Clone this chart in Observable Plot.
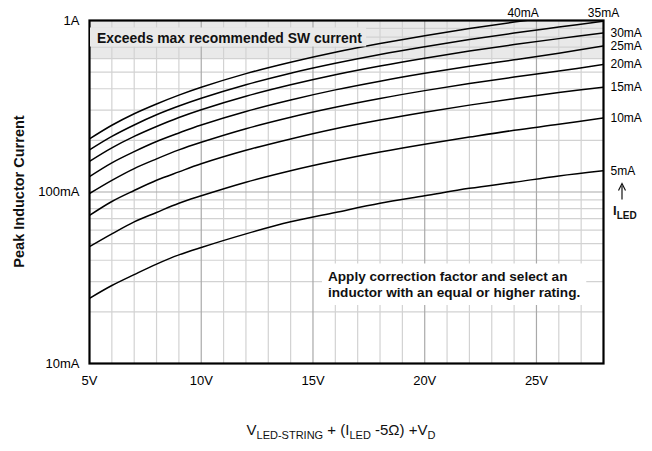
<!DOCTYPE html>
<html><head><meta charset="utf-8">
<script src="https://cdn.jsdelivr.net/npm/d3@7"></script>
<script src="https://cdn.jsdelivr.net/npm/@observablehq/plot@0.6"></script>
<style>body{margin:0;background:#fff} svg{display:block}</style>
</head><body><div id="chart"></div>
<script>
// ---- data ----
const volts = [5, 6, 7, 8, 9, 10, 12, 14, 16, 18, 20, 22, 24, 26, 28];
const ledLabels = ["5mA", "10mA", "15mA", "20mA", "25mA", "30mA", "35mA", "40mA"];
const peak5mA  = [24, 28.5, 33, 38, 43, 47.5, 57, 67, 76, 86, 95, 105, 114, 124, 133];
const peak10mA = [48, 57, 67, 76, 86, 95, 114, 133, 152, 171, 190, 209, 229, 248, 270];
const peak15mA = [73, 88, 102, 117, 131, 146, 175, 204, 234, 263, 292, 321, 350, 380, 409];
const peak20mA = [98, 117, 137, 156, 176, 195, 234, 273, 312, 351, 390, 429, 468, 507, 555];
const peak25mA = [123, 148, 172, 197, 221, 246, 295, 344, 394, 443, 492, 541, 590, 645, 710];
const peak30mA = [151, 181, 211, 241, 272, 302, 362, 422, 483, 543, 603, 663, 724, 784, 845];
const peak35mA = [176, 211, 246, 282, 317, 352, 422, 493, 563, 634, 704, 775, 845, 915, 990];
const peak40mA = [204, 245, 286, 326, 367, 408, 490, 571, 653, 734, 816, 898, 979, 1060, 1140];
const xTickValues = [5, 10, 15, 20, 25];
const xTickLabels = ["5V", "10V", "15V", "20V", "25V"];
const yTickValues = [10, 100, 1000];
const yTickLabels = ["10mA", "100mA", "1A"];
const xGridMinor = [6,7,8,9,11,12,13,14,16,17,18,19,21,22,23,24,26,27];
const xGridMajor = [10, 15, 20, 25];
const yGridMinor = [20,30,40,50,60,70,80,90,200,300,400,500,600,700,800,900];
const yGridMajor = [100];
const swLimit = [600, 1000];          // shaded "exceeds" band (mA)
const topLabelVolts = [24.4, 28];     // where 40mA and 35mA curves reach 1A

// ---- build table ----
const series = [peak5mA, peak10mA, peak15mA, peak20mA, peak25mA, peak30mA, peak35mA, peak40mA];
const rows = series.flatMap((vals, k) => vals.map((v, i) => ({v: volts[i], i: v, s: ledLabels[k]})));
const sideLabels = series.slice(0, 6).map((vals, k) => ({v: volts[volts.length - 1], i: vals[vals.length - 1], t: ledLabels[k]}));
const topLabels = [{v: topLabelVolts[0], i: 1000, t: ledLabels[7]}, {v: topLabelVolts[1], i: 1000, t: ledLabels[6]}];

const FONT = "Liberation Sans, Arial, Helvetica, sans-serif";

const plot = Plot.plot({
  width: 652, height: 451,
  marginTop: 20, marginLeft: 89, marginRight: 49, marginBottom: 88,
  style: {fontFamily: FONT, fontSize: "13px", background: "white", color: "black", overflow: "visible"},
  x: {domain: [5, 28], label: null},
  y: {type: "log", domain: [10, 1000], label: null},
  marks: [
    Plot.rect([swLimit], {x1: 5, x2: 28, y1: d => d[0], y2: d => d[1], fill: "#e9e9e9"}),
    Plot.ruleX(xGridMinor, {stroke: "#d2d2d2", strokeWidth: 1.2}),
    Plot.ruleY(yGridMinor, {stroke: "#d2d2d2", strokeWidth: 1.2}),
    Plot.ruleX(xGridMajor, {stroke: "#a9a9a9", strokeWidth: 1.2}),
    Plot.ruleY(yGridMajor, {stroke: "#a9a9a9", strokeWidth: 1.2}),
    Plot.line(rows, {x: "v", y: "i", z: "s", stroke: "black", strokeWidth: 1.5, curve: "catmull-rom", clip: true}),
    Plot.frame({stroke: "black", strokeWidth: 2.2}),
    Plot.axisX({ticks: xTickValues, tickSize: 0, tickPadding: 12, label: null, fontSize: 13,
      tickFormat: d => xTickLabels[xTickValues.indexOf(d)]}),
    Plot.axisY({ticks: yTickValues, tickSize: 0, tickPadding: 10, label: null, fontSize: 13,
      tickFormat: d => yTickLabels[yTickValues.indexOf(d)]}),
    Plot.text(sideLabels, {x: "v", y: "i", text: "t", dx: 7, textAnchor: "start", fontSize: 12}),
    Plot.text(topLabels, {x: "v", y: "i", text: "t", dy: -7, textAnchor: "middle", fontSize: 12})
  ]
});
document.getElementById("chart").appendChild(plot);

// ---- annotations (positioned through the plot's scales) ----
const svg = d3.select(plot);
const xs = plot.scale("x"), ys = plot.scale("y");
const X = v => xs.apply(v), Y = v => ys.apply(v);

function boxedText(lines, x, y, size, lineH, fill, pad) {
  const g = svg.append("g");
  const rect = g.append("rect").attr("fill", fill);
  const t = g.append("text").attr("font-family", FONT).attr("font-weight", "bold")
    .attr("text-anchor", "start").attr("font-size", size).attr("fill", "#111");
  lines.forEach((l, k) => t.append("tspan").attr("x", x).attr("y", y + k * lineH).text(l));
  const b = t.node().getBBox();
  rect.attr("x", b.x - pad[0]).attr("y", b.y - pad[1]).attr("width", b.width + pad[0] + pad[2]).attr("height", b.height + pad[1] + pad[3]);
}
boxedText(["Exceeds max recommended SW current"], X(5) + 8, Y(1000) + 22.5, 13.9, 0, "#e9e9e9", [7, 2, 4, 1]);
boxedText(["Apply correction factor and select an", "inductor with an equal or higher rating."],
  X(5) + 239, Y(100) + 89, 13.6, 16.5, "white", [6, 5, 6, 5]);

// I_LED marker under the 5mA label
const ax = X(28) + 19;
svg.append("line").attr("x1", ax).attr("x2", ax).attr("y1", Y(100) + 8).attr("y2", Y(100) - 6)
  .attr("stroke", "#111").attr("stroke-width", 1.2);
svg.append("path").attr("d", `M${ax - 3.5},${Y(100) - 1} L${ax},${Y(100) - 8} L${ax + 3.5},${Y(100) - 1}`)
  .attr("fill", "none").attr("stroke", "#111").attr("stroke-width", 1.2);
const il = svg.append("text").attr("x", ax - 9).attr("y", Y(100) + 23).attr("text-anchor", "start")
  .attr("font-family", FONT).attr("font-weight", "bold").attr("font-size", 13).attr("fill", "#111");
il.append("tspan").text("I");
il.append("tspan").attr("font-size", 10).attr("dy", 4).text("LED");

// y-axis title
svg.append("text").attr("transform", `translate(19,${(Y(10) + Y(1000)) / 2}) rotate(-90)`)
  .attr("text-anchor", "middle").attr("dy", "0.35em").attr("font-family", FONT)
  .attr("font-weight", "bold").attr("font-size", 14.5).attr("fill", "#111").text("Peak Inductor Current");

// x-axis title with subscripts
const xt = svg.append("text").attr("x", (X(5) + X(28)) / 2 - 5).attr("y", Y(10) + 72)
  .attr("text-anchor", "middle").attr("font-family", FONT).attr("font-size", 15).attr("fill", "#111");
xt.append("tspan").text("V");
xt.append("tspan").attr("font-size", 11).attr("dy", 4).text("LED-STRING");
xt.append("tspan").attr("dy", -4).text(" + (I");
xt.append("tspan").attr("font-size", 11).attr("dy", 4).text("LED");
xt.append("tspan").attr("dy", -4).text(" -5Ω) +V");
xt.append("tspan").attr("font-size", 11).attr("dy", 4).text("D");
</script>
</body></html>
